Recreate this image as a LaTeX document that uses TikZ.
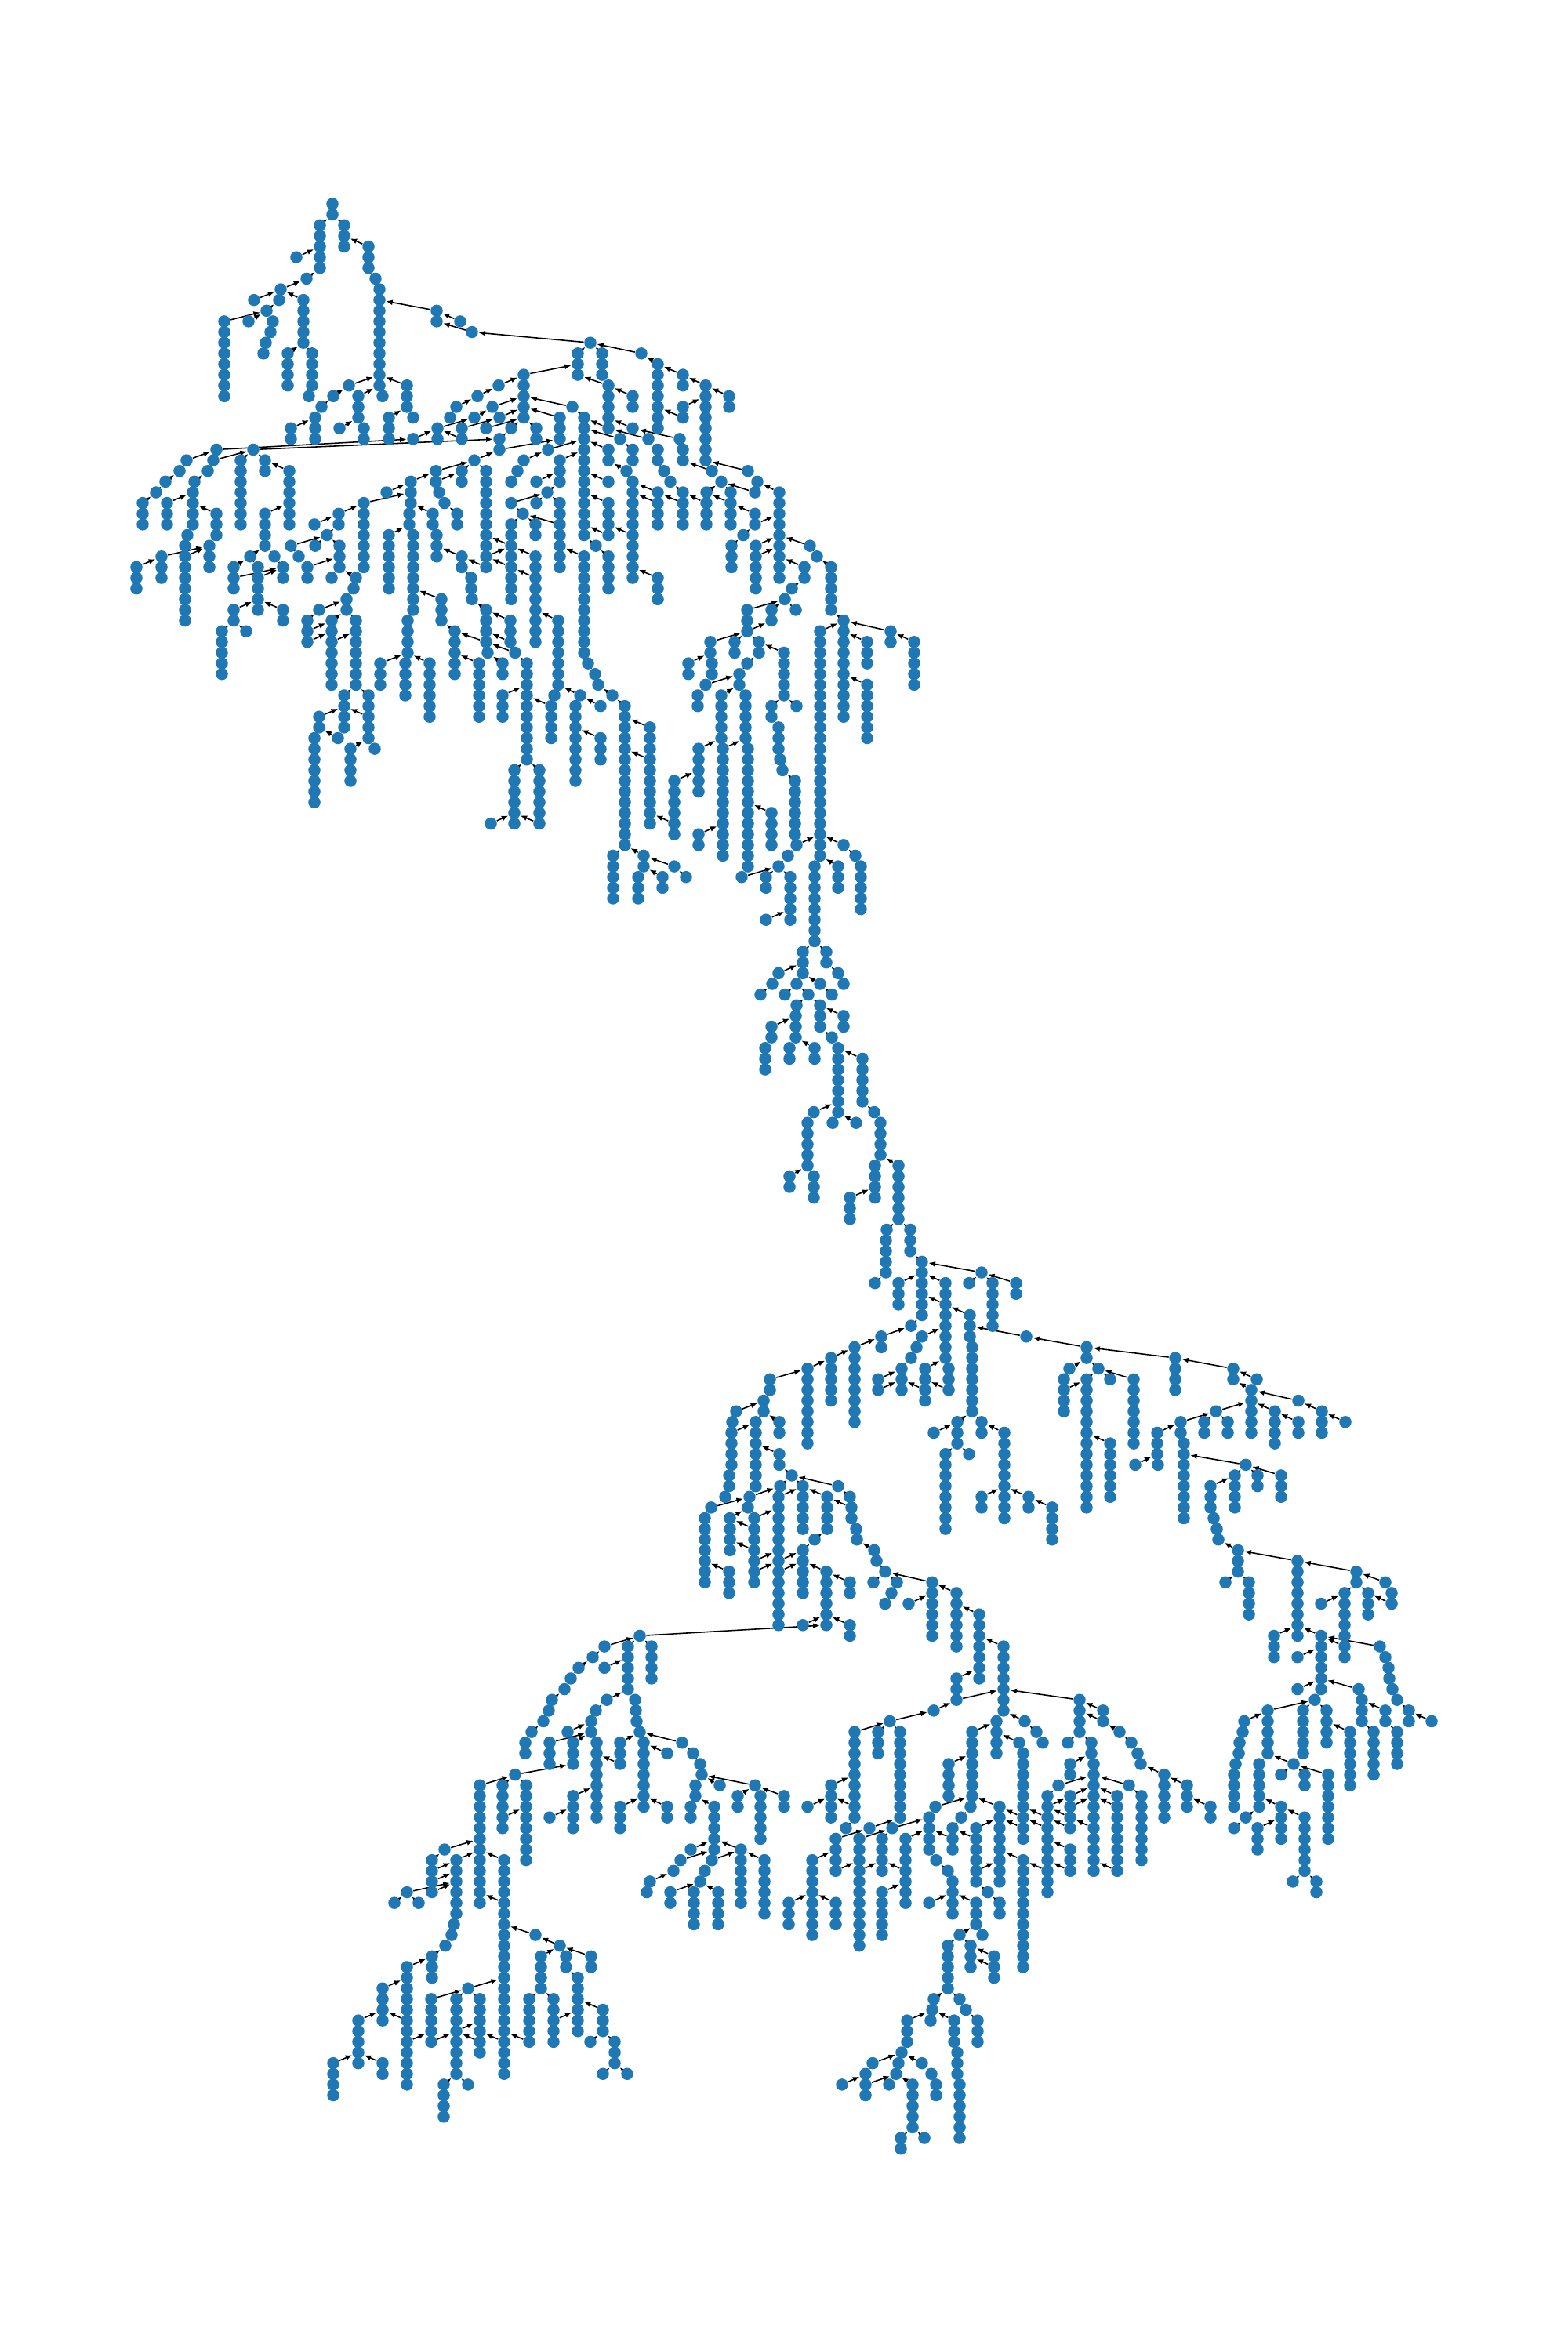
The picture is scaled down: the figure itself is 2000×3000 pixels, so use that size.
\documentclass[tikz,border=0pt]{standalone}
\usetikzlibrary{arrows.meta, backgrounds}
\definecolor{vtxblue}{HTML}{1F77B4}

\begin{document}
\begin{tikzpicture}[
  x=0.01cm, y=0.01cm,
  vtx/.style={circle, fill=vtxblue, inner sep=0pt, minimum size=0.155cm},
  lnk/.style={line width=0.45pt, black, -{Latex[length=0.085cm,width=0.07cm]}},
  joint/.style={line width=0.45pt, black},
]
\useasboundingbox (0,0) rectangle (2000,-3000);

% columns: x / first row / last row
\def\vtxlist{424/0/1,408/2/6,439/2/4,470/4/6,479/7/7,484/8/17,488/18/18,378/5/5,391/7/7,358/8/8,324/9/9,356/9/9,340/10/10,
348/11/11,345/12/12,339/13/13,336/14/14,286/11/18,317/11/11,387/9/13,367/14/17,398/14/17,394/18/18,445/17/17,425/18/18,
410/19/19,402/20/22,371/21/22,457/18/20,464/21/22,433/21/21,519/17/19,527/20/20,496/20/22,527/22/22,558/21/22,589/21/22,
605/20/20,620/21/21,557/10/11,587/11/11,602/12/12,753/13/13,737/14/16,768/14/16,818/14/14,839/15/21,871/16/17,900/17/24,
930/18/19,871/19/20,668/16/20,636/17/17,609/18/18,582/19/19,574/20/20,776/17/20,807/18/19,807/21/21,776/21/21,867/22/22,
871/23/24,730/19/19,714/20/22,745/20/31,684/21/22,652/21/21,637/22/23,637/20/20,628/19/19,323/23/23,276/23/23,605/24/24,
699/23/23,668/24/24,660/25/25,652/26/26,714/24/26,684/26/26,698/27/27,652/28/28,684/28/28,714/28/34,667/29/29,652/30/37,
683/30/31,776/23/24,791/22/22,807/23/24,776/26/26,776/28/31,827/22/22,839/23/24,847/25/25,855/26/26,871/27/30,839/27/30,
839/35/37,901/27/30,799/25/25,807/26/35,908/25/25,920/26/26,932/27/30,954/25/25,966/26/26,963/27/27,994/27/35,963/29/30,948/31/31,
933/32/34,964/32/36,1033/32/32,1042/33/33,1060/34/38,1026/34/35,1010/36/36,1001/37/37,1015/38/38,984/38/39,953/38/40,
906/41/42,908/43/44,937/41/42,968/41/42,1000/42/46,953/43/43,943/44/45,878/43/44,900/45/45,890/46/47,920/46/50,951/46/50,
954/51/62,1076/39/48,1046/40/61,1106/41/43,1136/40/41,1166/41/45,1106/45/50,
272/24/24,238/24/24,229/25/25,211/26/26,199/27/27,182/28/30,265/25/25,248/26/26,246/27/30,213/28/30,276/29/31,239/31/31,
236/32/39,267/32/34,206/33/35,174/34/36,307/24/30,338/24/25,369/25/30,338/29/32,319/33/33,298/34/36,350/33/33,361/34/35,
329/34/38,298/38/39,361/38/39,283/40/44,314/40/40,
401/30/30,432/29/30,464/28/34,524/26/28,522/29/30,493/27/27,556/25/26,560/27/27,567/28/28,583/29/30,589/25/26,620/25/34,
496/31/36,527/31/38,552/29/30,557/31/33,589/33/34,601/35/36,602/37/37,371/32/32,402/32/32,381/33/33,417/31/31,433/32/34,
392/34/35,423/35/35,454/35/35,451/36/36,442/37/38,407/38/38,392/39/41,423/39/45,454/39/45,439/46/49,470/46/50,407/48/49,
401/50/56,431/50/50,447/51/54,478/51/51,620/38/41,622/42/42,563/37/39,580/40/44,611/43/48,641/43/44,641/46/48,548/43/48,
520/39/42,517/43/46,485/43/45,651/39/41,657/42/42,672/43/52,683/33/41,712/39/45,707/46/46,703/47/50,745/33/42,750/43/43,
759/44/44,763/45/45,781/46/46,797/47/60,760/32/32,776/33/36,740/46/46,734/47/54,766/47/47,766/50/52,829/49/58,860/54/59,
891/51/55,922/51/61,891/59/60,656/53/58,688/53/58,626/58/58,782/61/65,821/61/62,814/63/65,845/63/64,860/62/62,875/63/63,
946/63/63,993/62/62,1005/61/61,1016/60/60,977/63/64,1008/63/67,977/67/67,1039/62/69,1069/62/64,1076/60/60,1091/61/61,
1098/62/66,1014/54/59,998/53/53,995/52/52,993/49/51,984/47/48,1016/47/47,984/57/60,
1024/70/72,1054/70/71,1069/72/72,1076/73/73,993/72/72,985/73/73,970/74/74,1016/73/73,1001/74/74,1046/73/73,1061/74/74,
1031/74/74,1016/75/75,1015/76/78,1046/75/77,1076/76/77,1061/78/78,1069/79/85,1100/80/84,1115/85/85,1123/86/89,984/77/78,
976/79/81,1007/79/80,1039/79/80,1038/85/85,1030/86/90,1062/86/86,1092/86/86,1007/91/92,1038/91/93,1116/90/93,1146/90/95,
1084/93/95,1131/96/96,1130/97/100,1161/96/98,1176/99/104,1252/100/100,1116/101/101,1146/101/103,1206/101/108,1210/109/111,
1237/104/106,1240/107/113,1236/101/101,1266/101/105,1296/101/102,1309/106/106,1176/106/106,1169/107/107,1162/108/108,
1150/109/111,1120/110/111,1180/109/112,1221/114/116,1252/114/115,1191/115/115,1281/115/123,1206/117/124,1236/117/117,
1252/121/122,1312/121/122,1342/122/125,1162/105/105,1124/106/107,1090/107/114,1060/108/112,1030/109/116,982/110/111,
974/112/113,939/113/113,934/114/114,933/115/118,930/119/120,925/121/121,964/114/120,994/114/115,994/117/118,1010/119/119,
1069/120/120,995/120/120,1024/120/124,956/121/121,954/122/122,907/122/122,899/123/129,930/128/130,931/123/126,962/123/129,
993/121/133,1055/121/124,1084/121/121,1086/122/123,1092/124/124,1093/125/125,1115/126/126,1118/127/127,1129/128/128,
1189/129/134,1114/129/129,1144/129/129,1137/130/130,1129/131/131,1159/131/131,1220/130/135,1249/132/138,1280/135/141,
1024/126/130,1039/125/125,1054/128/133,1084/129/130,1084/133/134,1024/133/133,
1386/107/108,1499/108/111,1573/109/110,1603/110/110,1596/111/115,1656/112/112,1686/113/115,1716/114/114,1626/113/116,
1656/114/115,1551/113/113,1506/114/115,1510/116/123,1536/114/115,1566/114/115,1476/115/117,1477/118/118,1448/118/118,
1589/118/118,1575/119/122,1604/119/120,1634/119/121,1544/120/122,1548/123/123,1552/124/124,1554/125/125,1579/126/128,
1655/127/134,1730/128/129,1767/129/129,1775/130/131,1715/130/136,1745/130/132,1685/131/131,1593/129/132,1563/129/129,
1625/134/136,1685/134/139,1655/136/136,1760/135/135,1767/136/136,1771/137/137,1772/138/138,1776/139/139,1782/140/140,
1797/141/142,1826/142/142,1655/139/139,1733/139/139,1737/140/142,1767/141/142,1677/140/140,1617/141/145,1662/141/145,
1692/141/144,1722/143/148,1752/143/147,1782/143/146,1587/142/142,1585/143/143,1581/144/144,1580/145/145,1576/146/146,
1574/147/150,1606/146/150,1650/146/146,1634/147/147,1664/147/148,1694/147/153,1514/148/150,1485/147/151,1544/150/151,
1634/150/153,1664/151/156,1604/152/154,1589/151/151,1574/152/152,1649/157/157,1679/157/158,1364/109/109,1401/109/109,
1357/110/113,1386/110/122,1416/110/110,1446/110/116,1416/116/121,
1377/140/143,1407/141/142,1428/143/143,1443/144/144,1451/145/145,1455/146/146,1362/144/144,1392/144/145,1395/146/156,
1365/146/147,1350/148/148,1440/148/148,1336/149/158,1365/149/152,1425/149/156,1456/149/155,1365/154/156,1275/150/157,
1240/143/149,1238/150/150,1271/142/145,1307/142/142,1322/143/143,1330/144/144,1300/144/144,1305/145/153,1210/146/149,
1193/150/150,1226/151/151,1215/152/154,1245/152/157,1185/151/154,1194/155/155,1209/156/156,1215/157/160,1148/143/151,
1090/143/151,1120/143/145,1135/142/142,1191/141/141,1220/138/140,1060/148/151,1030/150/150,1000/149/150,1079/152/152,
1109/152/152,1138/152/152,1066/153/156,1096/153/163,1125/153/156,1155/153/159,1125/158/162,1036/155/162,1006/159/161,
1066/159/161,1185/159/159,1245/159/161,1260/158/158,1275/159/160,1305/155/165,1224/162/162,1253/162/162,1209/163/167,
1238/163/165,1268/164/166,1191/168/168,1189/169/169,1187/170/170,1224/168/168,1232/169/169,1247/170/172,1157/170/172,
1217/170/172,1221/173/175,1224/176/181,1150/173/173,1146/174/174,1143/175/175,1113/174/174,1176/174/174,1188/175/175,
1194/176/177,1104/175/177,1074/176/176,1134/176/176,1164/176/180,1149/181/182,1179/181/181,
816/134/134,771/135/135,756/136/136,738/137/137,728/138/138,720/139/139,704/140/140,700/141/141,693/142/142,678/143/143,
670/144/145,801/135/139,831/135/138,771/137/137,774/140/140,760/141/141,754/142/143,724/143/143,701/144/146,731/144/146,
761/144/151,791/144/146,810/140/140,811/141/141,812/142/142,816/143/143,821/144/150,851/145/145,870/144/144,884/145/145,
893/146/146,895/147/147,887/148/149,881/150/151,731/149/152,701/151/151,791/150/152,851/150/151,657/147/147,612/148/159,
641/148/152,671/148/155,567/154/154,582/155/160,579/161/161,576/162/162,568/163/163,551/164/166,551/155/158,519/158/158,
503/159/159,534/159/159,643/155/175,683/162/162,714/163/163,754/164/165,690/164/167,722/164/165,737/166/171,769/169/171,
753/172/172,784/172/174,769/175/175,800/175/175,675/168/172,706/168/172,597/167/167,550/168/172,582/168/175,612/168/173,
519/165/176,488/167/170,457/170/174,425/174/177,488/174/175,566/176/179,597/176/176,881/154/154,868/155/155,859/156/156,
829/157/157,825/158/158,855/158/159,893/157/157,885/158/161,918/148/148,963/148/148,941/149/150,970/149/153,911/150/154,
908/155/155,899/156/156,945/154/159,975/155/160,916/158/161}

% links: child x / row / parent x / row
\def\lnklist{408/2/424/1,439/2/424/1,470/4/439/3,479/7/470/6,484/8/479/7,488/18/484/17,378/5/408/4,391/7/408/6,358/8/391/7,
324/9/358/8,356/9/358/8,340/10/356/9,348/11/340/10,345/12/348/11,339/13/345/12,336/14/339/13,286/11/340/10,317/11/340/10,
387/9/358/8,367/14/387/13,398/14/387/13,394/18/398/17,445/17/484/16,425/18/445/17,410/19/425/18,402/20/410/19,371/21/402/20,
457/18/484/17,464/21/457/20,433/21/457/20,519/17/484/16,527/20/519/19,496/20/519/19,527/22/558/21,558/21/605/20,589/22/558/21,
589/21/637/20,605/20/628/19,620/21/668/20,557/10/484/9,587/11/557/10,602/12/557/11,753/13/602/12,737/14/753/13,768/14/753/13,
818/14/753/13,839/15/818/14,871/16/839/15,900/17/871/16,930/18/900/17,871/19/900/18,871/20/839/19,668/16/737/15,636/17/668/16,
609/18/636/17,582/19/609/18,574/20/582/19,776/17/737/16,807/18/776/17,807/21/776/20,867/22/807/21,871/23/867/22,730/19/668/18,
714/20/668/19,745/20/730/19,684/21/668/20,652/21/668/20,637/22/652/21,628/19/668/18,637/20/668/19,323/23/637/22,276/23/527/22,
637/23/714/22,605/24/637/23,699/23/745/22,668/24/699/23,660/25/668/24,652/26/660/25,714/24/745/23,684/26/714/25,698/27/714/26,
652/28/698/27,684/28/698/27,714/28/698/27,667/29/652/28,652/30/667/29,683/30/667/29,714/30/667/29,776/23/745/22,791/22/745/21,
807/23/791/22,776/21/745/20,827/22/776/21,839/23/827/22,847/25/839/24,855/26/847/25,871/27/855/26,839/27/807/26,839/28/807/27,
871/28/839/27,901/28/871/27,901/27/920/26,799/25/776/24,807/26/799/25,908/25/871/24,920/26/908/25,932/27/920/26,963/27/920/26,
932/28/901/27,954/25/900/24,966/26/954/25,994/27/966/26,963/29/932/28,963/30/994/29,948/31/963/30,933/32/948/31,964/32/994/31,
964/33/994/32,1033/32/994/31,1042/33/1033/32,1060/34/1042/33,1026/34/994/33,1010/36/1026/35,1001/37/1010/36,1015/38/1001/37,
984/38/1001/37,953/38/1001/37,953/40/984/39,906/41/953/40,937/41/953/40,968/41/953/40,1000/42/968/41,953/43/968/42,943/44/953/43,
878/43/906/42,908/43/906/42,900/45/943/44,890/46/900/45,920/46/943/45,951/46/943/45,954/51/951/50,1076/39/1060/38,1046/40/1076/39,
1106/41/1076/40,1136/40/1076/39,1166/41/1136/40,1106/45/1076/44,
238/24/276/23,229/25/238/24,211/26/229/25,199/27/211/26,182/28/199/27,272/24/323/23,265/25/272/24,248/26/265/25,246/27/248/26,
213/28/246/27,276/29/246/28,239/31/246/30,236/32/239/31,236/33/267/32,206/33/267/32,174/34/206/33,267/32/276/31,307/24/323/23,
338/24/323/23,369/25/338/24,338/29/369/28,319/33/338/32,298/34/319/33,350/33/338/32,361/34/350/33,329/34/319/33,298/35/361/34,
329/35/361/34,298/38/329/37,361/38/329/37,283/40/298/39,314/40/298/39,
401/30/432/29,432/29/464/28,464/28/524/27,493/27/524/26,524/26/556/25,556/25/605/24,522/29/524/28,556/26/589/25,589/25/605/24,
560/27/556/26,567/28/560/27,583/29/567/28,620/25/605/24,496/31/522/30,527/31/522/30,552/29/524/28,557/31/552/30,589/33/557/32,
601/35/589/34,602/37/601/36,620/34/589/33,620/33/652/32,652/32/620/31,652/34/620/33,371/32/417/31,402/32/417/31,381/33/371/32,
417/31/432/30,433/32/417/31,392/34/433/33,423/35/433/34,454/35/433/34,451/36/454/35,442/37/451/36,407/38/442/37,392/39/407/38,
423/39/442/38,454/39/442/38,392/40/423/39,392/41/423/40,423/41/454/40,439/46/454/45,470/46/454/45,407/48/439/47,470/48/439/47,
401/50/407/49,431/50/407/49,447/51/470/50,478/51/470/50,620/38/602/37,563/37/527/36,580/40/563/39,620/41/580/40,611/43/580/42,
641/43/622/42,622/42/620/41,651/39/620/38,651/41/620/40,657/42/620/41,672/43/657/42,641/46/672/45,548/43/520/42,485/43/520/42,
520/39/527/38,517/43/520/42,683/33/652/32,683/35/652/34,712/39/683/38,707/46/712/45,703/47/672/46,745/33/714/32,750/43/745/42,
759/44/750/43,763/45/759/44,781/46/763/45,797/47/781/46,760/32/745/31,776/33/760/32,776/28/745/27,776/31/745/30,776/26/745/25,
807/31/776/30,839/35/807/34,740/46/712/45,734/47/740/46,766/47/740/46,766/50/734/49,829/49/797/48,829/52/797/51,860/54/891/53,
860/58/829/57,891/51/920/50,922/51/951/50,891/59/922/58,656/53/672/52,688/53/672/52,626/58/656/57,688/58/656/57,782/61/797/60,
821/61/797/60,814/63/821/62,845/63/821/62,860/62/821/61,875/63/860/62,984/57/954/56,946/63/993/62,993/62/1005/61,1005/61/1016/60,
1016/60/1046/59,977/63/993/62,1008/63/993/62,977/67/1008/66,1039/62/1046/61,1069/62/1046/61,1076/60/1046/59,1091/61/1076/60,
1098/62/1091/61,1014/54/998/53,998/53/995/52,995/52/993/51,993/49/984/48,984/47/1000/46,1016/47/1000/46,
1024/70/1039/69,1054/70/1039/69,1069/72/1054/71,1076/73/1069/72,993/72/1024/71,985/73/993/72,970/74/985/73,1016/73/1024/72,
1001/74/1016/73,1046/73/1024/72,1061/74/1046/73,1031/74/1016/73,1016/75/1031/74,1015/76/1016/75,1046/75/1031/74,1076/76/1046/75,
1061/78/1046/77,1069/79/1061/78,1100/80/1069/79,1115/85/1100/84,1123/86/1115/85,984/77/1015/76,976/79/984/78,1007/79/1015/78,
1039/79/1015/78,1038/85/1069/84,1030/86/1038/85,1062/86/1069/85,1092/86/1069/85,1007/91/1030/90,1038/91/1030/90,1116/90/1123/89,
1146/90/1123/89,1084/93/1116/92,1131/96/1146/95,1130/97/1131/96,1161/96/1146/95,1176/99/1161/98,1252/100/1176/99,1116/101/1130/100,
1146/101/1176/100,1206/101/1176/100,1206/103/1176/102,1210/109/1206/108,1237/104/1206/103,1240/107/1237/106,1236/101/1252/100,
1266/101/1252/100,1296/101/1252/100,1309/106/1237/105,1176/106/1206/105,1169/107/1176/106,1162/108/1169/107,1150/109/1162/108,
1120/110/1150/109,1120/111/1150/110,1180/109/1206/108,1180/111/1150/110,1210/111/1180/110,1221/114/1240/113,1252/114/1240/113,
1191/115/1221/114,1281/115/1252/114,1206/117/1221/116,1236/117/1221/116,1252/121/1281/120,1312/121/1281/120,1342/122/1312/121,
1162/105/1176/104,1124/106/1162/105,1090/107/1124/106,1060/108/1090/107,1030/109/1060/108,982/110/1030/109,974/112/982/111,
939/113/974/112,934/114/939/113,933/115/934/114,930/119/933/118,925/121/930/120,964/114/974/113,933/115/964/114,994/114/974/113,
994/117/964/116,1010/119/994/118,1069/120/1010/119,995/120/1010/119,1024/120/1010/119,956/121/995/120,954/122/956/121,907/122/956/121,
899/123/907/122,930/128/899/127,931/123/954/122,962/123/993/122,962/124/931/123,962/126/931/125,962/127/993/126,962/128/993/127,
993/121/1024/120,993/127/1024/126,993/128/1024/127,1055/121/1024/120,1084/121/1069/120,1086/122/1055/121,1092/124/1086/123,
1093/125/1092/124,1115/126/1093/125,1118/127/1115/126,1129/128/1118/127,1189/129/1129/128,1114/129/1129/128,1144/129/1129/128,
1137/130/1144/129,1129/131/1137/130,1159/131/1189/130,1220/130/1189/129,1249/132/1220/131,1280/135/1249/134,1024/126/1039/125,
1039/125/1055/124,1054/128/1024/127,1084/129/1054/128,1084/133/1054/132,1024/133/1054/132,816/134/1054/133,
1386/107/1309/106,1499/108/1386/107,1573/109/1499/108,1603/110/1573/109,1596/111/1573/110,1656/112/1596/111,1686/113/1656/112,
1716/114/1686/113,1626/113/1596/112,1656/114/1626/113,1551/113/1596/112,1506/114/1551/113,1510/116/1506/115,1536/114/1551/113,
1566/114/1551/113,1476/115/1506/114,1448/118/1476/117,1477/118/1476/117,1589/118/1510/117,1575/119/1589/118,1604/119/1589/118,
1634/119/1589/118,1544/120/1575/119,1548/123/1544/122,1552/124/1548/123,1554/125/1552/124,1579/126/1554/125,1655/127/1579/126,
1730/128/1655/127,1767/129/1730/128,1775/130/1767/129,1715/130/1730/129,1745/130/1730/129,1685/131/1715/130,1775/131/1745/130,
1593/129/1579/128,1563/129/1579/128,1625/134/1655/133,1685/134/1655/133,1655/136/1685/135,1715/135/1685/134,1760/135/1685/134,
1767/136/1760/135,1771/137/1767/136,1772/138/1771/137,1776/139/1772/138,1782/140/1776/139,1797/141/1782/140,1826/142/1797/141,
1655/139/1685/138,1733/139/1685/138,1737/140/1733/139,1767/141/1737/140,1677/140/1685/139,1617/141/1677/140,1662/141/1677/140,
1692/141/1677/140,1722/143/1692/142,1752/143/1737/142,1782/143/1767/142,1587/142/1617/141,1585/143/1587/142,1581/144/1585/143,
1580/145/1581/144,1576/146/1580/145,1574/147/1576/146,1606/146/1617/145,1650/146/1617/145,1634/147/1650/146,1664/147/1650/146,
1694/147/1650/146,1514/148/1485/147,1544/150/1514/149,1485/147/1455/146,1634/150/1606/149,1664/151/1634/150,1604/152/1634/151,
1589/151/1606/150,1574/152/1589/151,1649/157/1664/156,1679/157/1664/156,1364/109/1386/108,1401/109/1386/108,1357/110/1364/109,
1357/111/1386/110,1386/110/1401/109,1416/110/1401/109,1446/110/1401/109,1416/116/1386/115,
1220/138/1249/137,1220/140/1280/139,1377/140/1280/139,1407/141/1377/140,1407/142/1377/141,1428/143/1407/142,1443/144/1428/143,
1451/145/1443/144,1455/146/1451/145,1362/144/1377/143,1392/144/1377/143,1395/146/1392/145,1365/146/1392/145,1350/148/1395/147,
1440/148/1395/147,1336/149/1350/148,1365/149/1395/148,1365/150/1395/149,1336/150/1365/149,1425/149/1395/148,1425/150/1395/149,
1425/156/1395/155,1456/149/1440/148,1365/151/1336/150,1365/152/1336/151,1395/152/1365/151,1365/154/1336/153,1365/156/1336/155,
1275/150/1240/149,1240/143/1271/142,1271/142/1280/141,1238/150/1240/149,1307/142/1280/141,1322/143/1307/142,1330/144/1322/143,
1300/144/1271/143,1305/145/1300/144,1210/146/1240/145,1193/150/1240/149,1226/151/1238/150,1215/152/1226/151,1245/152/1275/151,
1305/151/1275/150,1305/152/1275/151,1336/151/1305/150,1336/152/1305/151,1185/151/1193/150,1194/155/1185/154,1209/156/1194/155,
1215/157/1209/156,1148/143/1135/142,1090/143/1135/142,1120/143/1135/142,1135/142/1191/141,1191/141/1220/140,1060/148/1090/147,
1090/150/1060/149,1030/150/1060/149,1000/149/963/148,963/148/895/147,918/148/895/147,941/149/963/148,970/149/963/148,
1079/152/1090/151,1109/152/1148/151,1138/152/1185/151,
1066/153/1109/152,1096/153/1138/152,1125/153/1138/152,1155/153/1185/152,1215/153/1185/152,1245/153/1215/152,1066/156/1096/155,
1096/156/1125/155,1155/156/1125/155,1036/155/1066/154,1125/158/1155/157,1006/159/1036/158,1066/159/1036/158,1185/159/1215/158,
1245/159/1215/158,1260/158/1245/157,1275/159/1260/158,1245/156/1275/155,1305/155/1275/154,1336/156/1305/155,1224/162/1245/161,
1253/162/1245/161,1209/163/1224/162,1238/163/1224/162,1268/164/1238/163,1268/165/1238/164,1191/168/1209/167,1189/169/1191/168,
1187/170/1189/169,1224/168/1209/167,1232/169/1224/168,1247/170/1232/169,1157/170/1189/169,1217/170/1189/169,1221/173/1217/172,
1224/176/1221/175,1150/173/1157/172,1146/174/1150/173,1143/175/1146/174,1113/174/1150/173,1176/174/1150/173,1188/175/1176/174,
1194/176/1188/175,1104/175/1113/174,1074/176/1104/175,1104/176/1143/175,1134/176/1143/175,1164/176/1143/175,1149/181/1164/180,
1179/181/1164/180,
771/135/816/134,756/136/771/135,738/137/756/136,728/138/738/137,720/139/728/138,704/140/720/139,700/141/704/140,693/142/700/141,
678/143/693/142,670/144/678/143,801/135/816/134,831/135/816/134,771/137/801/136,774/140/801/139,760/141/774/140,754/142/760/141,
724/143/754/142,701/144/754/143,731/144/754/143,761/144/754/143,791/144/816/143,791/146/761/145,810/140/801/139,811/141/810/140,
812/142/811/141,816/143/812/142,821/144/816/143,851/145/821/144,870/144/816/143,884/145/870/144,893/146/884/145,895/147/893/146,
887/148/895/147,881/150/887/149,911/150/887/149,731/149/761/148,701/151/731/150,791/150/821/149,851/150/821/149,657/147/731/146,
612/148/657/147,641/148/657/147,671/148/657/147,641/151/671/150,567/154/612/153,582/155/612/154,579/161/582/160,576/162/579/161,
568/163/576/162,551/164/568/163,551/155/567/154,551/156/582/155,551/157/582/156,551/158/582/157,519/158/582/157,503/159/519/158,
534/159/519/158,643/155/612/154,643/159/612/158,683/162/643/161,714/163/683/162,754/164/714/163,690/164/714/163,722/164/714/163,
737/166/722/165,769/169/737/168,753/172/769/171,784/172/769/171,769/175/784/174,800/175/784/174,675/168/690/167,706/168/690/167,
706/170/737/169,643/172/612/171,675/172/643/171,597/167/643/166,550/168/597/167,582/168/597/167,612/168/597/167,582/171/612/170,
550/172/582/171,519/172/550/171,612/172/582/171,519/165/551/164,488/167/519/166,519/170/488/169,457/170/488/169,425/174/457/173,
488/174/457/173,566/176/582/175,597/176/582/175,881/154/911/153,868/155/911/154,859/156/868/155,829/157/859/156,825/158/829/157,
855/158/893/157,885/158/893/157,916/158/893/157,908/155/945/154,945/154/911/153,975/155/945/154,899/156/908/155,893/157/899/156}

\foreach \cx/\ra/\rb in \vtxlist {
  \foreach \r in {\ra,...,\rb} {
    \node[vtx] (n\cx-\r) at (\cx, {-260-13.63*\r}) {};
  }
}

\begin{pgfonlayer}{background}
\foreach \cx/\ra/\rb in \vtxlist {
  \foreach \r in {\ra,...,\rb} {
    \ifnum\r<\rb
      \pgfmathtruncatemacro{\s}{\r+1}
      \draw[joint] (n\cx-\r.center) -- (n\cx-\s.center);
    \fi
  }
}
\foreach \ca/\ra/\cb/\rb in \lnklist {
  \draw[lnk] (n\ca-\ra) -- (n\cb-\rb);
}
\end{pgfonlayer}

\end{tikzpicture}
\end{document}
